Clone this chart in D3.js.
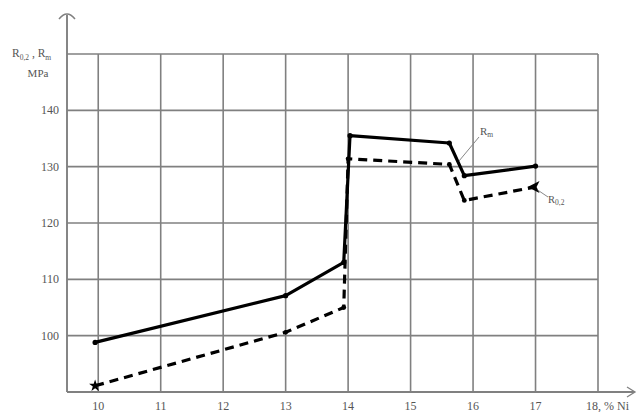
<!DOCTYPE html>
<html>
<head>
<meta charset="utf-8">
<script src="https://cdn.jsdelivr.net/npm/d3@7"></script>
<style>
  html, body { margin: 0; padding: 0; background: #fff; }
  svg { display: block; }
  text { font-family: "Liberation Serif", "DejaVu Serif", serif; fill: #555; }
</style>
</head>
<body>
<svg id="chart" width="639" height="412"></svg>
<script>
// Nickel content, % Ni
const xTicks = [10, 11, 12, 13, 14, 15, 16, 17, 18];
const yTicks = [100, 110, 120, 130, 140];

// Tensile strength Rm, MPa
const rmNi  = [9.95, 13.0, 13.93, 14.03, 15.62, 15.86, 17.0];
const rmVal = [98.8, 107.1, 113.0, 135.5, 134.2, 128.4, 130.1];

// Yield strength R0,2, MPa
const rpNi  = [9.95, 13.0, 13.93, 14.0, 15.62, 15.86, 17.0];
const rpVal = [91.1, 100.6, 105.0, 131.4, 130.4, 124.0, 126.4];

const svg = d3.select("#chart");
const x = d3.scaleLinear().domain([9.5, 18]).range([67, 598]);
const y = d3.scaleLinear().domain([90, 150]).range([392, 54]);
const gridColor = "#808080";

// grid
svg.append("g").selectAll("line.v").data(xTicks).join("line")
  .attr("x1", d => x(d)).attr("x2", d => x(d))
  .attr("y1", y(90)).attr("y2", y(150))
  .attr("stroke", gridColor).attr("stroke-width", 1.6);
svg.append("g").selectAll("line.h").data(yTicks.concat([150])).join("line")
  .attr("x1", x(9.5)).attr("x2", x(18))
  .attr("y1", d => y(d)).attr("y2", d => y(d))
  .attr("stroke", gridColor).attr("stroke-width", 1.6);

// axes with arrows
svg.append("line").attr("x1", x(9.5)).attr("x2", x(9.5)).attr("y1", y(90)).attr("y2", 15)
  .attr("stroke", gridColor).attr("stroke-width", 1.9);
svg.append("path").attr("d", `M${x(9.5)-8},19 Q${x(9.5)},9 ${x(9.5)+8},19`)
  .attr("fill", "none").attr("stroke", gridColor).attr("stroke-width", 1.5);
svg.append("line").attr("x1", x(9.5)).attr("x2", 634).attr("y1", y(90)).attr("y2", y(90))
  .attr("stroke", gridColor).attr("stroke-width", 1.9);
svg.append("path").attr("d", `M627,${y(90)-5} L635,${y(90)} L627,${y(90)+5}`)
  .attr("fill", "none").attr("stroke", gridColor).attr("stroke-width", 1.3);

// tick labels
svg.append("g").selectAll("text").data(yTicks).join("text")
  .attr("x", 59).attr("y", d => y(d) + 4)
  .attr("text-anchor", "end").attr("font-size", 12).text(d => d);
svg.append("g").selectAll("text").data(xTicks).join("text")
  .attr("x", d => x(d) + (d === 18 ? -12 : 0)).attr("y", 410)
  .attr("text-anchor", d => d === 18 ? "start" : "middle")
  .attr("font-size", 12).text(d => d === 18 ? "18, % Ni" : d);

// axis title
const t = svg.append("text").attr("x", 12).attr("y", 57).attr("font-size", 11.5);
t.append("tspan").text("R");
t.append("tspan").attr("font-size", 7.5).attr("dy", 3).text("0,2");
t.append("tspan").attr("dy", -3).text(" , R");
t.append("tspan").attr("font-size", 7.5).attr("dy", 3).text("m");
svg.append("text").attr("x", 38).attr("y", 77).attr("text-anchor", "middle")
  .attr("font-size", 11).text("MPa");

// curves
const line = d3.line().x(d => x(d[0])).y(d => y(d[1]));
const rm = d3.zip(rmNi, rmVal);
const rp = d3.zip(rpNi, rpVal);

svg.append("path").datum(rp).attr("d", line)
  .attr("fill", "none").attr("stroke", "#000").attr("stroke-width", 3.2)
  .attr("stroke-dasharray", "9,6").attr("stroke-linejoin", "round");
svg.append("path").datum(rm).attr("d", line)
  .attr("fill", "none").attr("stroke", "#000").attr("stroke-width", 3.2)
  .attr("stroke-linejoin", "round");

// markers
svg.append("g").selectAll("circle").data(rm).join("circle")
  .attr("cx", d => x(d[0])).attr("cy", d => y(d[1])).attr("r", 2.6).attr("fill", "#000");
svg.append("g").selectAll("circle").data(rp.slice(1, -1)).join("circle")
  .attr("cx", d => x(d[0])).attr("cy", d => y(d[1])).attr("r", 2.4).attr("fill", "#000");
const p0 = rp[0];
svg.append("path").attr("transform", `translate(${x(p0[0])},${y(p0[1])})`)
  .attr("d", d3.symbol(d3.symbolStar, 45)()).attr("fill", "#000");
const pe = rp[rp.length - 1];
svg.append("path").attr("transform", `translate(${x(pe[0])},${y(pe[1])})`)
  .attr("d", "M-8,0 L4,-6 L1,0 L4,6 Z").attr("fill", "#000");

// curve labels with leaders
svg.append("line").attr("x1", 459).attr("y1", 161).attr("x2", 479).attr("y2", 137)
  .attr("stroke", "#888").attr("stroke-width", 1);
const lm = svg.append("text").attr("x", 480).attr("y", 135).attr("font-size", 11);
lm.append("tspan").text("R");
lm.append("tspan").attr("font-size", 7.5).attr("dy", 2).text("m");

svg.append("line").attr("x1", x(17) + 2).attr("y1", y(126.4) + 3).attr("x2", 548).attr("y2", 197)
  .attr("stroke", "#888").attr("stroke-width", 1);
const lr = svg.append("text").attr("x", 548).attr("y", 203).attr("font-size", 10.5);
lr.append("tspan").text("R");
lr.append("tspan").attr("font-size", 7.5).attr("dy", 2).text("0,2");
</script>
</body>
</html>
